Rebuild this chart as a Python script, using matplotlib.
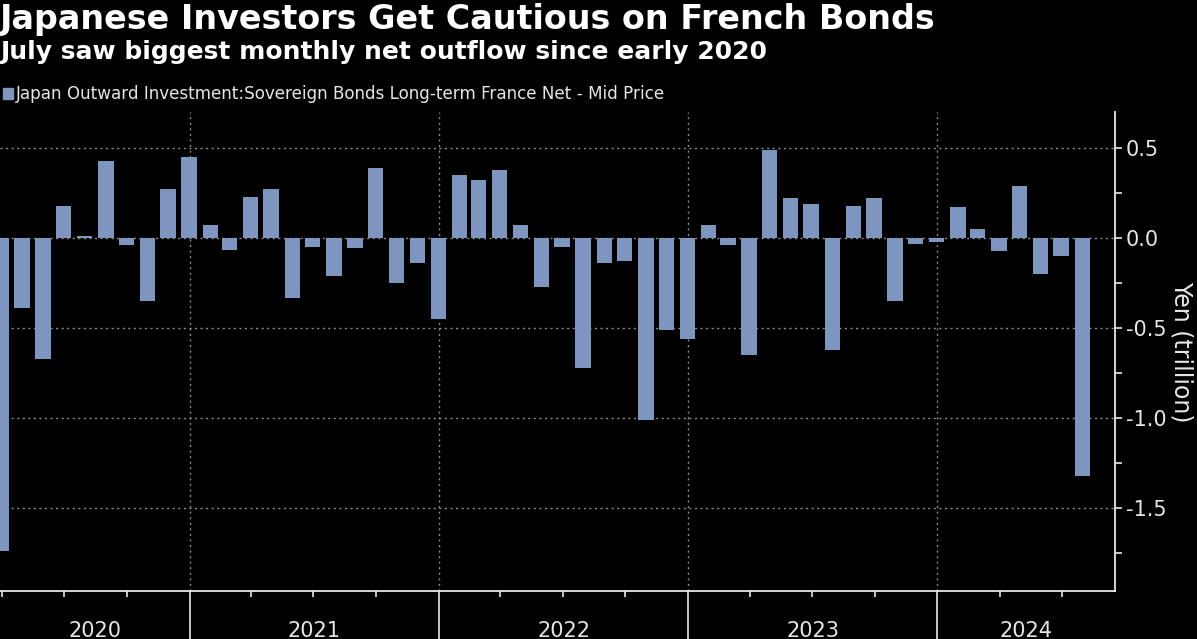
import matplotlib
matplotlib.use("Agg")
import matplotlib.pyplot as plt
import matplotlib.dates as mdates
import matplotlib.transforms as mtransforms
import pandas as pd
import numpy as np

# ---- data ----
months = pd.date_range("2020-03-31", "2024-07-31", freq="ME")
values = [
    -1.74, -0.39, -0.67, 0.18, 0.01, 0.43, -0.04, -0.35, 0.27, 0.45,   # 2020 Mar-Dec
    0.07, -0.065, 0.23, 0.27, -0.335, -0.05, -0.21, -0.055, 0.39, -0.25, -0.14, -0.45,  # 2021
    0.35, 0.32, 0.38, 0.07, -0.27, -0.05, -0.72, -0.14, -0.13, -1.01, -0.51, -0.56,     # 2022
    0.07, -0.04, -0.65, 0.49, 0.22, 0.19, -0.62, 0.18, 0.225, -0.35, -0.035, -0.02,     # 2023
    0.17, 0.05, -0.07, 0.29, -0.20, -0.10, -1.32,                                       # 2024 Jan-Jul
]
years = ["2020", "2021", "2022", "2023", "2024"]
title = "Japanese Investors Get Cautious on French Bonds"
subtitle = "July saw biggest monthly net outflow since early 2020"
legend_label = "Japan Outward Investment:Sovereign Bonds Long-term France Net - Mid Price"
ylabel = "Yen (trillion)"
yticks = [0.5, 0.0, -0.5, -1.0, -1.5]

bar_color = "#7e96bf"
grid_color = "#8a8a8a"
text_color = "#e6e6e6"

plt.rcParams["axes.unicode_minus"] = False
plt.rcParams["font.family"] = ["DejaVu Sans"]

W, H = 1197, 639
fig = plt.figure(figsize=(W / 100, H / 100), dpi=100, facecolor="black")
ax_left, ax_right, ax_top, ax_bottom = 0, 1115, 112, 591
ax = fig.add_axes([ax_left / W, 1 - ax_bottom / H, (ax_right - ax_left) / W, (ax_bottom - ax_top) / H])
ax.set_facecolor("black")

ax.bar(months, values, width=22.5, color=bar_color, zorder=3)

xmin = pd.Timestamp("2020-03-29")
xmax = pd.Timestamp("2024-09-17")
ax.set_xlim(xmin, xmax)
ax.set_ylim(-1.96, 0.70)

# y axis on right
ax.yaxis.tick_right()
ax.yaxis.set_label_position("right")
ax.set_yticks(yticks)
ax.set_yticklabels([f"{v:.1f}" for v in yticks])
ax.set_yticks([0.25, -0.25, -0.75, -1.25, -1.75], minor=True)
ax.tick_params(axis="y", which="both", colors=text_color, length=5, width=1.2,
               labelsize=15, pad=3, direction="out")
ax.set_ylabel(ylabel, color=text_color, fontsize=17, rotation=-90, labelpad=19)

for s in ["top", "left"]:
    ax.spines[s].set_visible(False)
for s in ["right", "bottom"]:
    ax.spines[s].set_color(text_color)
    ax.spines[s].set_linewidth(1.3)

# x axis: quarter minor ticks, year major ticks (long)
ax.xaxis.set_major_locator(mdates.YearLocator())
ax.xaxis.set_minor_locator(mdates.MonthLocator(bymonth=[1, 4, 7, 10]))
ax.xaxis.set_major_formatter(plt.NullFormatter())
ax.tick_params(axis="x", which="major", length=48, width=1.2, colors=text_color, direction="out")
ax.tick_params(axis="x", which="minor", length=4, width=1.2, colors=text_color, direction="out")

# grid
ax.grid(axis="y", which="major", color=grid_color, linestyle=(0, (1.5, 2.5)), linewidth=1.0, zorder=1)
ax.grid(axis="x", which="major", color=grid_color, linestyle=(0, (1.5, 2.5)), linewidth=1.0, zorder=1)

# year labels centered in visible segments
trans = mtransforms.blended_transform_factory(ax.transData, ax.transAxes)
for y in years:
    start = max(pd.Timestamp(f"{y}-01-01"), xmin)
    end = min(pd.Timestamp(f"{int(y) + 1}-01-01"), xmax)
    mid = start + (end - start) / 2
    ax.text(mdates.date2num(mid), -0.083, y, transform=trans, ha="center", va="center",
            color=text_color, fontsize=15, clip_on=False)

# titles
fig.text(0.0, 1 - 19 / H, title, color="white", fontsize=24, fontweight="bold",
         ha="left", va="center")
fig.text(0.0, 1 - 52 / H, subtitle, color="white", fontsize=18, fontweight="bold",
         ha="left", va="center")

# legend
fig.patches.append(plt.Rectangle((3 / W, 1 - 99 / H), 10 / W, 11 / H, transform=fig.transFigure,
                                 color=bar_color, figure=fig))
fig.text(16 / W, 1 - 94 / H, legend_label, color=text_color, fontsize=12.1, ha="left", va="center")

fig.savefig("out.png", dpi=100, facecolor="black")
